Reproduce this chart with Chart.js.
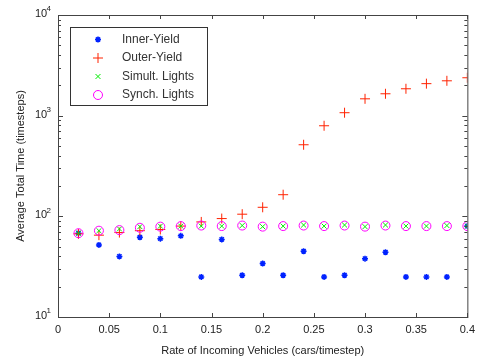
<!DOCTYPE html>
<html>
<head>
<meta charset="utf-8">
<script src="https://cdn.jsdelivr.net/npm/chart.js@4"></script>
<style>
  html, body { margin: 0; padding: 0; background: #fff; }
  #wrap { width: 481px; height: 358px; }
</style>
</head>
<body>
<div id="wrap"><canvas id="timeChart" width="481" height="358"></canvas></div>
<script>
// Data
const rates = [0.02, 0.04, 0.06, 0.08, 0.1, 0.12, 0.14, 0.16, 0.18, 0.2,
  0.22, 0.24, 0.26, 0.28, 0.3, 0.32, 0.34, 0.36, 0.38, 0.4];
const innerYield = [68, 52, 40, 62, 60, 64, 25, 59, 26, 34,
  26, 45, 25, 26, 38, 44, 25, 25, 25, 80];
const outerYield = [67, 65, 69, 72, 74, 80, 88, 95, 105, 123,
  164, 514, 794, 1070, 1470, 1650, 1850, 2080, 2220, 2380];
const simultLights = [68, 72, 75, 79, 80, 80, 80, 80, 81, 79,
  80, 82, 80, 82, 79, 82, 80, 80, 81, 80];
const synchLights = [68, 72, 73, 77, 79, 80, 81, 80, 81, 79,
  80, 81, 80, 81, 79, 81, 80, 80, 80, 80];
const xTicks = [0, 0.05, 0.1, 0.15, 0.2, 0.25, 0.3, 0.35, 0.4];
const yDecades = [10, 100, 1000, 10000];
const seriesNames = ["Inner-Yield", "Outer-Yield", "Simult. Lights", "Synch. Lights"];

const FONT = "'Liberation Sans', Arial, sans-serif";
const AXIS = "#444";
const TEXT = "#222";

function pairs(values) {
  return rates.map((r, i) => ({ x: r, y: values[i] }));
}

function drawMarker(ctx, style, r, x, y) {
  if (style === "circle") {
    ctx.moveTo(x + r, y);
    ctx.arc(x, y, r, 0, Math.PI * 2);
  } else if (style === "cross") {
    ctx.moveTo(x - r, y); ctx.lineTo(x + r, y);
    ctx.moveTo(x, y - r); ctx.lineTo(x, y + r);
  } else if (style === "crossRot") {
    const d = r * 0.707;
    ctx.moveTo(x - d, y - d); ctx.lineTo(x + d, y + d);
    ctx.moveTo(x - d, y + d); ctx.lineTo(x + d, y - d);
  } else {
    const d = r * 0.707;
    ctx.moveTo(x - r, y); ctx.lineTo(x + r, y);
    ctx.moveTo(x, y - r); ctx.lineTo(x, y + r);
    ctx.moveTo(x - d, y - d); ctx.lineTo(x + d, y + d);
    ctx.moveTo(x - d, y + d); ctx.lineTo(x + d, y - d);
  }
}

// Frame, inward ticks, 10^n labels and legend box (MATLAB look)
const matlabFrame = {
  id: "matlabFrame",
  afterDraw(chart) {
    const ctx = chart.ctx;
    const a = chart.chartArea;
    const xs = chart.scales.x;
    const ys = chart.scales.y;
    ctx.save();
    ctx.strokeStyle = AXIS;
    ctx.lineWidth = 1;
    ctx.strokeRect(a.left + 0.5, a.top + 0.5, a.right - a.left, a.bottom - a.top);

    ctx.beginPath();
    xTicks.forEach((v) => {
      const px = Math.round(xs.getPixelForValue(v)) + 0.5;
      ctx.moveTo(px, a.bottom);
      ctx.lineTo(px, a.bottom - 4);
      ctx.moveTo(px, a.top);
      ctx.lineTo(px, a.top + 4);
    });
    yDecades.forEach((d, k) => {
      const py = Math.round(ys.getPixelForValue(d)) + 0.5;
      ctx.moveTo(a.left, py);
      ctx.lineTo(a.left + 5, py);
      ctx.moveTo(a.right, py);
      ctx.lineTo(a.right - 5, py);
      if (k < yDecades.length - 1) {
        for (let m = 2; m <= 9; m++) {
          const pm = Math.round(ys.getPixelForValue(d * m)) + 0.5;
          ctx.moveTo(a.left, pm);
          ctx.lineTo(a.left + 3, pm);
          ctx.moveTo(a.right, pm);
          ctx.lineTo(a.right - 3, pm);
        }
      }
    });
    ctx.stroke();

    // y labels as 10 with superscript exponent
    ctx.fillStyle = TEXT;
    ctx.textBaseline = "middle";
    ctx.textAlign = "left";
    yDecades.forEach((d) => {
      const py = ys.getPixelForValue(d);
      ctx.font = "11px " + FONT;
      ctx.fillText("10", a.left - 23, py - 1);
      ctx.font = "8px " + FONT;
      ctx.fillText(String(Math.round(Math.log10(d))), a.left - 11.5, py - 6);
    });

    // legend
    const lx = 70.5, ly = 27.5, lw = 137, lh = 78;
    ctx.fillStyle = "#fff";
    ctx.fillRect(lx, ly, lw, lh);
    ctx.strokeStyle = "#333";
    ctx.strokeRect(lx, ly, lw, lh);
    ctx.font = "12px " + FONT;
    chart.data.datasets.forEach((ds, i) => {
      const cy = ly + 12 + i * 18.5;
      ctx.strokeStyle = ds.borderColor;
      ctx.lineWidth = ds.borderWidth;
      ctx.beginPath();
      drawMarker(ctx, ds.pointStyle, ds.pointRadius, 98, cy);
      ctx.stroke();
      ctx.fillStyle = "#333";
      ctx.textAlign = "left";
      ctx.textBaseline = "middle";
      ctx.fillText(seriesNames[i], 122, cy);
    });
    ctx.restore();
  }
};

let timeChart;

function initChart() {
  const ctx = document.getElementById("timeChart").getContext("2d");
  timeChart = new Chart(ctx, {
    type: "scatter",
    data: {
      datasets: [
        {
          label: seriesNames[0],
          data: pairs(innerYield),
          pointStyle: "star",
          pointRadius: 3,
          borderWidth: 1.5,
          borderColor: "#0022ff",
          backgroundColor: "#0022ff",
          order: 3
        },
        {
          label: seriesNames[1],
          data: pairs(outerYield),
          pointStyle: "cross",
          pointRadius: 5,
          borderWidth: 1,
          borderColor: "#ff2200",
          backgroundColor: "#ff2200",
          order: 2
        },
        {
          label: seriesNames[2],
          data: pairs(simultLights),
          pointStyle: "crossRot",
          pointRadius: 3.5,
          borderWidth: 1,
          borderColor: "#00ee00",
          backgroundColor: "#00ee00",
          order: 1
        },
        {
          label: seriesNames[3],
          data: pairs(synchLights),
          pointStyle: "circle",
          pointRadius: 4.5,
          borderWidth: 1,
          borderColor: "#ff00ff",
          backgroundColor: "rgba(0,0,0,0)",
          order: 0
        }
      ]
    },
    options: {
      responsive: false,
      animation: false,
      layout: { padding: { left: 0, top: 15, right: 12, bottom: 0 } },
      plugins: {
        legend: { display: false },
        tooltip: { enabled: false }
      },
      scales: {
        x: {
          type: "linear",
          min: 0,
          max: 0.4,
          afterFit: (scale) => { scale.height = 41; },
          afterBuildTicks: (scale) => {
            scale.ticks = xTicks.map((v) => ({ value: v }));
          },
          grid: { display: false, drawTicks: false },
          border: { display: false },
          ticks: {
            color: TEXT,
            padding: 6,
            maxRotation: 0,
            font: { family: FONT, size: 11 },
            callback: (v) => String(Number(v.toFixed(2)))
          },
          title: {
            display: true,
            text: "Rate of Incoming Vehicles (cars/timestep)",
            color: TEXT,
            padding: { top: 6, bottom: 0 },
            font: { family: FONT, size: 11 }
          }
        },
        y: {
          type: "logarithmic",
          min: 10,
          max: 10000,
          afterFit: (scale) => { scale.width = 58; },
          grid: { display: false, drawTicks: false },
          border: { display: false },
          ticks: { display: false },
          title: {
            display: true,
            text: "Average Total Time (timesteps)",
            color: TEXT,
            padding: { top: 14, bottom: 0 },
            font: { family: FONT, size: 11 }
          }
        }
      }
    },
    plugins: [matlabFrame]
  });
}

initChart();
</script>
</body>
</html>
